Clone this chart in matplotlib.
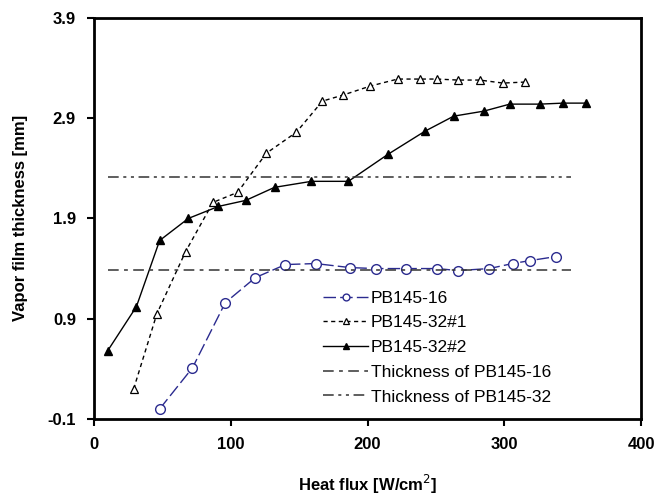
import matplotlib
matplotlib.use('Agg')
import matplotlib.pyplot as plt
import numpy as np

plt.rcParams.update({'font.family': ['Liberation Sans', 'DejaVu Sans']})

#%% data
q16 = [48, 72, 96, 118, 140, 162, 187, 206, 228, 251, 266, 289, 306, 319, 338]
t16 = [0.00, 0.41, 1.06, 1.31, 1.44, 1.45, 1.41, 1.40, 1.40, 1.40, 1.38, 1.40, 1.45, 1.48, 1.52]

q32a = [29, 46, 67, 87, 105, 126, 148, 167, 182, 202, 222, 238, 251, 266, 282, 299, 315]
t32a = [0.20, 0.95, 1.57, 2.06, 2.16, 2.55, 2.76, 3.07, 3.13, 3.22, 3.29, 3.29, 3.29, 3.28, 3.28, 3.25, 3.26]

q32b = [10, 31, 48, 69, 91, 111, 132, 159, 186, 215, 242, 263, 285, 304, 326, 343, 360]
t32b = [0.58, 1.02, 1.68, 1.90, 2.02, 2.08, 2.21, 2.27, 2.27, 2.54, 2.77, 2.92, 2.97, 3.04, 3.04, 3.05, 3.05]

ref_q = [10, 349]
ref16 = 1.39
ref32 = 2.31

xticks = [0, 100, 200, 300, 400]
yticks = [-0.1, 0.9, 1.9, 2.9, 3.9]

#%% plot
fig = plt.figure(figsize=(6.68, 4.97), dpi=100)
ax = fig.add_axes([0.1407, 0.157, 0.819, 0.807])

ax.plot(q16, t16, color='#2b2b8f', linestyle=(0, (9, 3)), linewidth=1.0,
        marker='o', markersize=7, markerfacecolor='white', markeredgecolor='#2b2b8f',
        markeredgewidth=1.0, label='PB145-16')
ax.plot(q32a, t32a, color='black', linestyle=(0, (3, 2.5)), linewidth=1.0,
        marker='^', markersize=5.5, markerfacecolor='white', markeredgecolor='black',
        markeredgewidth=0.9, label='PB145-32#1')
ax.plot(q32b, t32b, color='black', linestyle='-', linewidth=1.0,
        marker='^', markersize=6, markerfacecolor='black', markeredgecolor='black',
        label='PB145-32#2')
ax.plot(ref_q, [ref16, ref16], color='#333333', linestyle=(0, (7, 3.5, 2.5, 3.5)),
        linewidth=1.1, label='Thickness of PB145-16')
ax.plot(ref_q, [ref32, ref32], color='#333333', linestyle=(0, (7, 3, 2, 3, 2, 3)),
        linewidth=1.1, label='Thickness of PB145-32')

ax.set_xlim(0, 400)
ax.set_ylim(-0.1, 3.9)
ax.set_xticks(xticks)
ax.set_yticks(yticks)
ax.set_xticklabels([str(v) for v in xticks], fontweight='bold', fontsize=12)
ax.set_yticklabels(['%.1f' % v for v in yticks], fontweight='bold', fontsize=12)
ax.tick_params(direction='out', length=5, width=1.5, pad=8)
for s in ax.spines.values():
    s.set_linewidth(2)

ax.set_xlabel('Heat flux [W/cm$^2$]', fontweight='bold', fontsize=12, labelpad=15)
ax.set_ylabel('Vapor film thickness [mm]', fontweight='bold', fontsize=12, labelpad=14)

ax.legend(loc='lower right', bbox_to_anchor=(0.855, 0.01), frameon=False, fontsize=12.5,
          handlelength=2.6, handletextpad=0.15, labelspacing=0.55, borderaxespad=0.2,
          markerscale=0.7)

plt.savefig('out.png', dpi=100)
